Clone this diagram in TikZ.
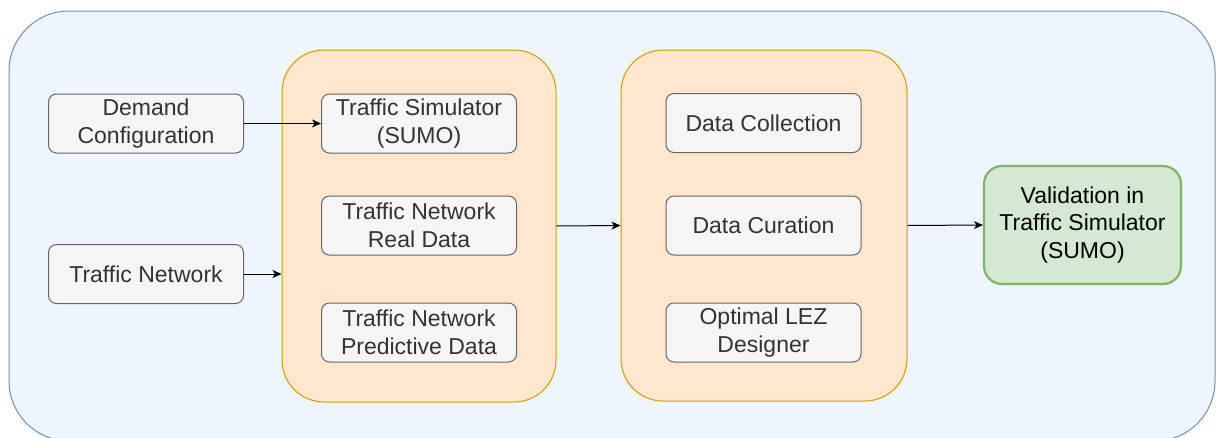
\documentclass[tikz,border=0pt]{standalone}
\usepackage{fontspec}
\setmainfont{Liberation Sans}
\usetikzlibrary{arrows.meta}
\definecolor{outerfill}{HTML}{EEF5FC}
\definecolor{outerdraw}{HTML}{6C8EBF}
\definecolor{orfill}{HTML}{FFE6CC}
\definecolor{ordraw}{HTML}{D79B00}
\definecolor{gyfill}{HTML}{F5F5F5}
\definecolor{gydraw}{HTML}{666666}
\definecolor{gytext}{HTML}{333333}
\definecolor{grfill}{HTML}{D5E8D4}
\definecolor{grdraw}{HTML}{82B366}
\tikzset{
  x=1pt, y=-1pt,
  graybox/.style={draw=gydraw, fill=gyfill, text=gytext, line width=1pt, rounded corners=8pt,
    minimum width=195pt, minimum height=59pt, align=center, inner sep=0pt,
    font=\fontsize{23}{27.5}\selectfont},
  groupbox/.style={draw=ordraw, fill=orfill, line width=1pt, rounded corners=42pt, inner sep=0pt},
  greenbox/.style={draw=grdraw, fill=grfill, text=black, line width=2.2pt, rounded corners=18pt,
    minimum width=197pt, minimum height=118pt, align=center, inner sep=0pt,
    font=\fontsize{23}{27.5}\selectfont},
  conn/.style={draw=black, line width=1pt, -{Stealth[length=9pt, width=8pt, inset=2.5pt]}}
}
\begin{document}
\begin{tikzpicture}
\useasboundingbox (0,0) rectangle (1217,437);
% outer container
\node[draw=outerdraw, fill=outerfill, line width=1pt, rounded corners=60pt, minimum width=1206pt, minimum height=430pt, inner sep=0pt] (outer) at (612,226) {};
% group boxes
\node[groupbox, minimum width=274pt, minimum height=352pt] (g1) at (419,226) {};
\node[groupbox, minimum width=286pt, minimum height=351pt] (g2) at (764,225.5) {};
% left inputs
\node[graybox] (dc) at (146,123.5) {Demand\\Configuration};
\node[graybox] (tn) at (146,274) {Traffic Network};
% group 1 contents
\node[graybox] (ts) at (419,123.5) {Traffic Simulator\\(SUMO)};
\node[graybox] (rd) at (419,225.5) {Traffic Network\\Real Data};
\node[graybox] (pd) at (419,332.5) {Traffic Network\\Predictive Data};
% group 2 contents
\node[graybox] (col) at (763.5,123) {Data Collection};
\node[graybox] (cur) at (763.5,225.5) {Data Curation};
\node[graybox] (lez) at (763.5,332.5) {Optimal LEZ\\Designer};
% validation
\node[greenbox] (val) at (1082.5,225) {Validation in\\Traffic Simulator\\(SUMO)};
% connectors
\draw[conn] (dc.east) -- (ts.west);
\draw[conn] (tn.east) -- (tn.east -| g1.west);
\draw[conn] (g1.east) -- (g2.west);
\draw[conn] (g2.east) -- (val.west);
\end{tikzpicture}
\end{document}
